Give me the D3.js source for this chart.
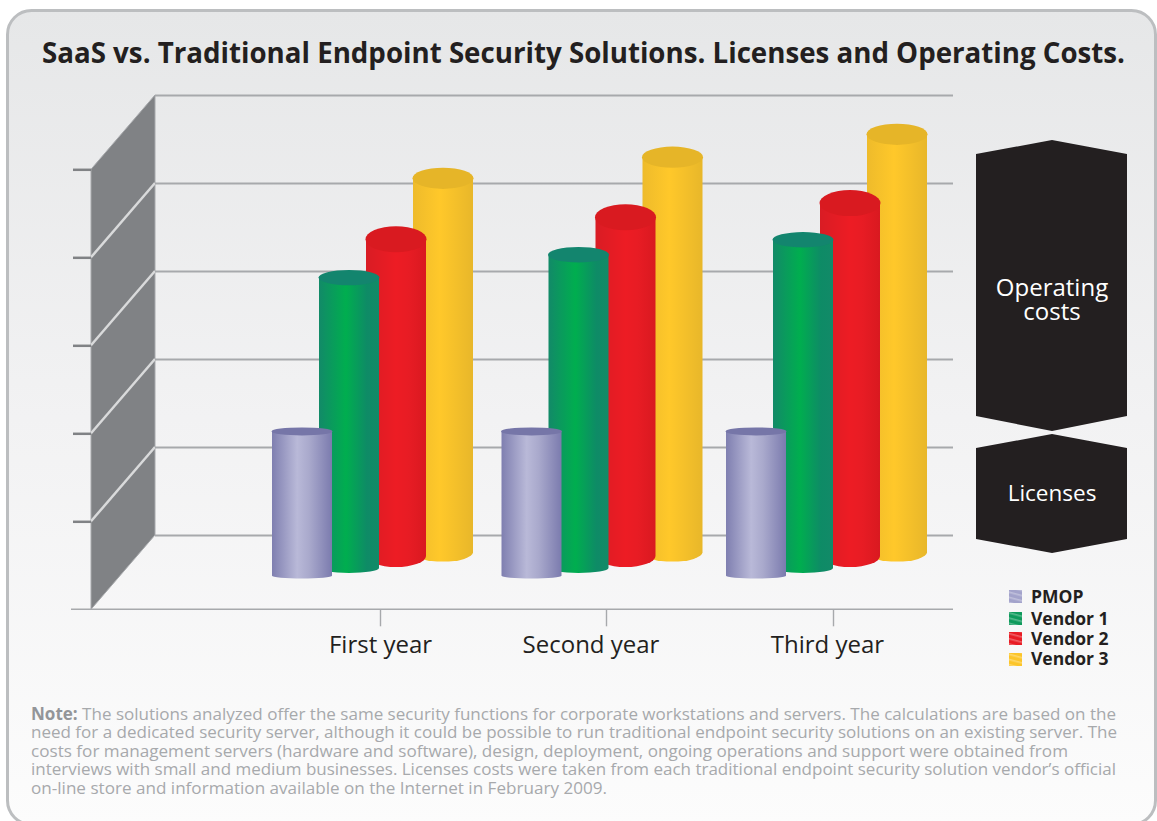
<!DOCTYPE html>
<html>
<head>
<meta charset="utf-8">
<script src="https://cdn.jsdelivr.net/npm/d3@7"></script>
<style>
  html, body { margin: 0; padding: 0; background: #fff; }
  svg { display: block; }
  text { font-family: "Open Sans", "Noto Sans", sans-serif; }
</style>
</head>
<body>
<div id="chart"></div>
<script>
// data
const years = ["First year", "Second year", "Third year"];
const seriesNames = ["PMOP", "Vendor 1", "Vendor 2", "Vendor 3"];
const pmop = [1.64, 1.64, 1.64];
const vendor1 = [3.30, 3.56, 3.73];
const vendor2 = [3.60, 3.85, 4.01];
const vendor3 = [4.25, 4.49, 4.75];
const gridValues = [0, 1, 2, 3, 4, 5];
const operatingLabel = ["Operating", "costs"];
const licensesLabel = ["Licenses"];
const titleText = "SaaS vs. Traditional Endpoint Security Solutions. Licenses and Operating Costs.";
const noteLines = [
    "The solutions analyzed offer the same security functions for corporate workstations and servers. The calculations are based on the",
    "need for a dedicated security server, although it could be possible to run traditional endpoint security solutions on an existing server. The",
    "costs for management servers (hardware and software), design, deployment, ongoing operations and support were obtained from",
    "interviews with small and medium businesses. Licenses costs were taken from each traditional endpoint security solution vendor\u2019s official",
    "on-line store and information available on the Internet in February 2009."
];

const seriesValues = [pmop, vendor1, vendor2, vendor3];

const width = 1157;
const height = 821;

const svg = d3.select("#chart")
    .append("svg")
        .attr("width", width)
        .attr("height", height)
        .attr("viewBox", `0 0 ${width} ${height}`);

const defs = svg.append("defs");

// colours per series
const bodyStops = [
    [[0, "#7f7fb0"], [0.42, "#b9b9d8"], [0.62, "#a9a9cc"], [1, "#7b7bae"]],
    [[0, "#128a68"], [0.45, "#00ae4f"], [0.8, "#0e8b66"], [1, "#128a68"]],
    [[0, "#d91c24"], [0.5, "#ed1c24"], [0.7, "#e81c24"], [1, "#d91920"]],
    [[0, "#eebb2b"], [0.45, "#ffc82a"], [1, "#e8b72a"]]
];
const topColor = ["#7676a8", "#13856e", "#d91a20", "#e6b528"];
const swatchColor = ["#a3a3cb", "#0f9a5c", "#e81c24", "#fcc52a"];

bodyStops.forEach(function(stops, i) {
    const grad = defs.append("linearGradient").attr("id", "body" + i);
    stops.forEach(function(s) {
        grad.append("stop").attr("offset", s[0]).attr("stop-color", s[1]);
    });
    // striped legend swatch
    const pat = defs.append("pattern")
        .attr("id", "swatch" + i)
        .attr("patternUnits", "userSpaceOnUse")
        .attr("width", 5).attr("height", 5)
        .attr("patternTransform", "rotate(15)");
    pat.append("rect").attr("width", 5).attr("height", 5).attr("fill", swatchColor[i]);
    pat.append("rect").attr("width", 5).attr("height", 1.6).attr("fill", "#fff").attr("opacity", 0.3);
});

const bg = defs.append("linearGradient")
    .attr("id", "panel").attr("x1", 0).attr("x2", 0).attr("y1", 0).attr("y2", 1);
bg.append("stop").attr("offset", 0).attr("stop-color", "#e6e7e8");
bg.append("stop").attr("offset", 0.5).attr("stop-color", "#f2f2f3");
bg.append("stop").attr("offset", 1).attr("stop-color", "#fcfcfc");

// panel
svg.append("rect")
    .attr("x", 7.5).attr("y", 10.5)
    .attr("width", 1148).attr("height", 814)
    .attr("rx", 24)
    .attr("fill", "url(#panel)")
    .attr("stroke", "#bcbec0")
    .attr("stroke-width", 3);

// title
svg.append("text")
    .attr("x", 42).attr("y", 63)
    .attr("font-size", 28.5)
    .attr("font-weight", 700)
    .attr("fill", "#231f20")
    .attr("textLength", 1083)
    .attr("lengthAdjust", "spacingAndGlyphs")
    .text(titleText);

// scales: back wall and front edge of the floor
const yBack = d3.scaleLinear().domain([0, 5]).range([535, 95]);
const yFront = d3.scaleLinear().domain([0, 5]).range([609.3, 169.3]);
const xFront = 91;
const xBack = 155;
const xEnd = 953;

const xGroup = d3.scaleOrdinal(years, [272, 501.5, 726]);
const xTick = d3.scaleOrdinal(years, [380, 606, 833]);
const xLabel = d3.scaleOrdinal(years, [380.5, 591, 827.5]);
const xSeries = d3.scalePoint(seriesNames, [0, 141]);
const baseY = d3.scaleOrdinal(seriesNames, [575.7, 568, 556, 552.3]);
const pxPerUnit = yBack(0) - yBack(1);

// side wall
svg.append("path")
    .attr("d", d3.line()([[xFront, yFront(5)], [xBack, yBack(5)], [xBack, yBack(0)], [xFront, yFront(0)]]) + "Z")
    .attr("fill", "#808285")
    .attr("stroke", "#a7a9ac")
    .attr("stroke-width", 1);

svg.selectAll(".diag")
    .data(gridValues.slice(1, 5))
    .join("line")
        .attr("class", "diag")
        .attr("x1", xFront).attr("x2", xBack)
        .attr("y1", function(d) { return yFront(d); })
        .attr("y2", function(d) { return yBack(d); })
        .attr("stroke", "#d9dadb")
        .attr("stroke-width", 2.5);

// horizontal grid lines on the back wall
svg.append("g")
    .attr("transform", `translate(${xBack}, 0)`)
    .call(d3.axisLeft(yBack).tickValues(gridValues).tickSize(-(xEnd - xBack)).tickFormat(""))
    .call(function(g) { g.select(".domain").remove(); })
    .call(function(g) { g.selectAll("line").attr("stroke", "#a7a9ac").attr("stroke-width", 2); });

// short ticks on the front edge
svg.append("g")
    .attr("transform", `translate(${xFront}, 0)`)
    .call(d3.axisLeft(yFront).tickValues(gridValues.slice(1)).tickSize(18).tickFormat(""))
    .call(function(g) { g.select(".domain").remove(); })
    .call(function(g) { g.selectAll("line").attr("stroke", "#808285").attr("stroke-width", 2.5); });

// floor line and year ticks
svg.append("line")
    .attr("x1", 71).attr("x2", xEnd)
    .attr("y1", yFront(0)).attr("y2", yFront(0))
    .attr("stroke", "#a7a9ac")
    .attr("stroke-width", 1.6);

svg.append("g")
    .attr("transform", `translate(0, ${yFront(0)})`)
    .call(d3.axisBottom(xTick).tickSize(17).tickFormat(""))
    .call(function(g) { g.select(".domain").remove(); })
    .call(function(g) { g.selectAll("line").attr("stroke", "#a7a9ac").attr("stroke-width", 1.4); });

svg.selectAll(".year")
    .data(years)
    .join("text")
        .attr("class", "year")
        .attr("x", function(d) { return xLabel(d); })
        .attr("y", 653)
        .attr("text-anchor", "middle")
        .attr("font-size", 24)
        .attr("fill", "#231f20")
        .text(function(d) { return d; });

// cylinders, rear series first
const barWidth = 60;
const topRy = [4, 7.7, 13, 10.6];
const baseRy = [2.8, 5, 11, 9.3];

const cylData = [];
years.forEach(function(year, g) {
    [3, 2, 1, 0].forEach(function(s) {
        cylData.push({ year: year, s: s, value: seriesValues[s][g] });
    });
});

const cyl = svg.selectAll(".cyl")
    .data(cylData)
    .join("g")
        .attr("class", "cyl")
        .attr("transform", function(d) {
            return `translate(${xGroup(d.year) + xSeries(seriesNames[d.s])}, ${baseY(seriesNames[d.s])})`;
        });

cyl.append("path")
    .attr("fill", function(d) { return `url(#body${d.s})`; })
    .attr("d", function(d) {
        const h = d.value * pxPerUnit;
        return `M0,${-h}L0,0A${barWidth / 2},${baseRy[d.s]} 0 0 0 ${barWidth},0L${barWidth},${-h}Z`;
    });

cyl.append("ellipse")
    .attr("cx", barWidth / 2)
    .attr("cy", function(d) { return -d.value * pxPerUnit; })
    .attr("rx", barWidth / 2 + 0.5)
    .attr("ry", function(d) { return topRy[d.s]; })
    .attr("fill", function(d) { return topColor[d.s]; });

// dark bands on the right
const bandLeft = 976, bandMid = 1052, bandRight = 1127;
const bands = [
    { label: operatingLabel, y0: 140, y1: 154, y2: 416, y3: 431, textY: [296, 320], size: 24 },
    { label: licensesLabel, y0: 434, y1: 448, y2: 539, y3: 553, textY: [501], size: 22.5 }
];

bands.forEach(function(b) {
    svg.append("path")
        .attr("d", d3.line()([[bandLeft, b.y1], [bandMid, b.y0], [bandRight, b.y1], [bandRight, b.y2], [bandMid, b.y3], [bandLeft, b.y2]]) + "Z")
        .attr("fill", "#231f20");
    b.label.forEach(function(t, i) {
        svg.append("text")
            .attr("x", bandMid).attr("y", b.textY[i])
            .attr("text-anchor", "middle")
            .attr("font-size", b.size)
            .attr("fill", "#ffffff")
            .text(t);
    });
});

// legend
const legendY = d3.scaleOrdinal(seriesNames, [590, 612, 632, 653]);
const legendTextY = d3.scaleOrdinal(seriesNames, [603, 625, 645, 665]);

const legend = svg.selectAll(".legend")
    .data(seriesNames)
    .join("g")
        .attr("class", "legend");

legend.append("rect")
    .attr("x", 1009)
    .attr("y", function(d) { return legendY(d); })
    .attr("width", 13).attr("height", 13)
    .attr("fill", function(d, i) { return `url(#swatch${i})`; });

legend.append("text")
    .attr("x", 1031)
    .attr("y", function(d) { return legendTextY(d); })
    .attr("font-size", 17.5)
    .attr("font-weight", 700)
    .attr("fill", "#231f20")
    .text(function(d) { return d; });

// note
const noteEnds = [1116, 1117, 1068, 1116, 607];

const note = svg.selectAll(".note")
    .data(noteLines)
    .join("text")
        .attr("class", "note")
        .attr("x", 31)
        .attr("y", function(d, i) { return 720 + i * 18.4; })
        .attr("font-size", 17)
        .attr("fill", "#a7a9ac")
        .attr("textLength", function(d, i) { return noteEnds[i] - 31; })
        .attr("lengthAdjust", "spacingAndGlyphs");

note.filter(function(d, i) { return i === 0; })
    .append("tspan")
        .attr("font-weight", 700)
        .attr("fill", "#939598")
        .text("Note: ");

note.append("tspan")
    .text(function(d) { return d; });
</script>
</body>
</html>
